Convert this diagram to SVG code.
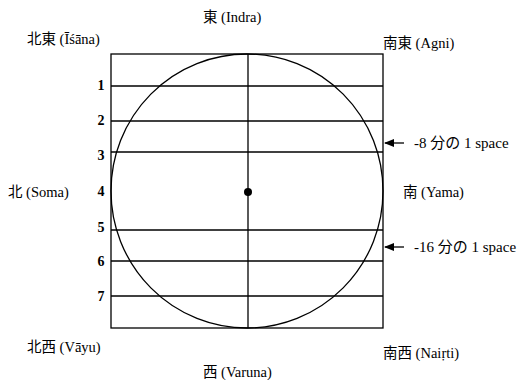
<svg xmlns="http://www.w3.org/2000/svg" width="517" height="380" viewBox="0 0 517 380">
<defs>
<marker id="ah" markerWidth="10" markerHeight="8" refX="9" refY="4" orient="auto" markerUnits="userSpaceOnUse">
<path d="M0,0 L10,4 L0,8 z" fill="#000"/>
</marker>
<style>
text{font-family:"Liberation Serif","Noto Sans CJK JP",serif;font-size:14.5px;fill:#000}
.num{font-weight:bold;font-size:14px;text-anchor:middle}
.sp{font-size:15px}
.ln{stroke:#000;stroke-width:1.3;fill:none}
</style>
</defs>
<rect width="517" height="380" fill="#fff"/>
<g id="frame">
<rect class="ln" x="111" y="54" width="272" height="274"/>
<line class="ln" x1="248" y1="54" x2="248" y2="328"/>
<ellipse class="ln" cx="247" cy="191" rx="136" ry="137" stroke-width="1.6"/>
<circle cx="248" cy="192" r="4" fill="#000"/>
</g>
<g id="rows">
<line class="ln" x1="111" y1="86" x2="383" y2="86"/>
<line class="ln" x1="111" y1="121" x2="383" y2="121"/>
<line class="ln" x1="111" y1="152" x2="383" y2="152"/>
<line class="ln" x1="111" y1="230" x2="383" y2="230"/>
<line class="ln" x1="111" y1="261" x2="383" y2="261"/>
<line class="ln" x1="111" y1="296" x2="383" y2="296"/>
<text class="num" x="101" y="90">1</text>
<text class="num" x="101" y="125">2</text>
<text class="num" x="101" y="160">3</text>
<text class="num" x="101" y="196">4</text>
<text class="num" x="101" y="232">5</text>
<text class="num" x="101" y="266">6</text>
<text class="num" x="101" y="301">7</text>
</g>
<g id="connectors">
<line class="ln" x1="404" y1="143" x2="385" y2="143" marker-end="url(#ah)"/>
<line class="ln" x1="404" y1="247" x2="385" y2="247" marker-end="url(#ah)"/>
</g>
<g id="labels">
<text x="203" y="22">東 (Indra)</text>
<text x="27" y="44">北東 (Īśāna)</text>
<text x="383" y="48">南東 (Agni)</text>
<text x="8" y="197">北 (Soma)</text>
<text x="403" y="197">南 (Yama)</text>
<text class="sp" x="414" y="148">-8 分の 1 space</text>
<text class="sp" x="414" y="252">-16 分の 1 space</text>
<text x="27" y="352">北西 (Vāyu)</text>
<text x="383" y="358">南西 (Naiṛti)</text>
<text x="203" y="377">西 (Varuna)</text>
</g>
</svg>
